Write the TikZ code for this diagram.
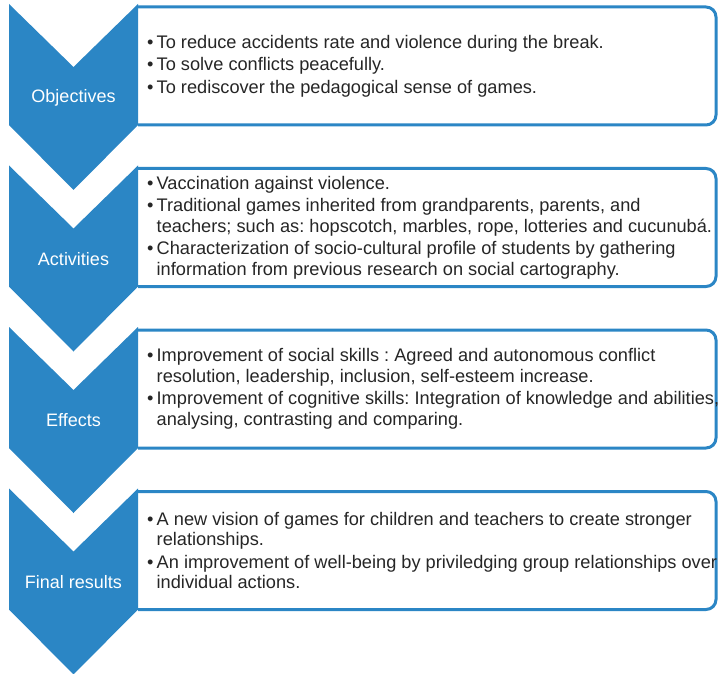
\documentclass[tikz,border=0pt]{standalone}
\usepackage{fontspec}
\setmainfont{Liberation Sans}
\frenchspacing
\definecolor{sablue}{RGB}{43,134,197}
\definecolor{txtgray}{RGB}{38,38,38}
\newcommand\bul{\makebox[9.5pt][l]{\textbullet}}
\newcommand\cnt{\hspace*{9.5pt}}
\newcommand\stage[4]{%
  \draw[boxline] (138,#1+3) -- (716,#1+3) -- (716,#1+121) -- (138,#1+121);
  \fill[chev] (9,#1) -- (73.5,#1+63) -- (138,#1) -- (138,#1+121) -- (73.5,#1+186) -- (9,#1+121) -- cycle;
  \node[lbl] (#2-label) at (73.5,#1+93.5) {#3};
  \node[body] (#2-text) at (147,#1+62) {#4};
}
\begin{document}
\begin{tikzpicture}[x=1pt,y=-1pt,
  chev/.style={fill=sablue,draw=none},
  boxline/.style={draw=sablue,line width=3pt,fill=white,rounded corners=10pt},
  lbl/.style={text=white,font=\fontsize{18}{20}\selectfont,inner sep=0pt},
  body/.style={anchor=west,text=txtgray,align=left,font=\fontsize{18.2}{20.5}\selectfont\frenchspacing,inner sep=0pt}]
\useasboundingbox (0,0) rectangle (718,674);
\stage{4}{obj}{Objectives}{\bul To reduce accidents rate and violence during the break.\\[2pt]
\bul To solve conflicts peacefully.\\[2pt]
\bul To rediscover the pedagogical sense of games.}
\stage{165.5}{act}{Activities}{\bul Vaccination against violence.\\[2pt]
\bul Traditional games inherited from grandparents, parents, and\\
\cnt teachers; such as: hopscotch, marbles, rope, lotteries and cucunubá.\\[2pt]
\bul Characterization of socio-cultural profile of students by gathering\\
\cnt information from previous research on social cartography.}
\stage{327}{eff}{Effects}{\bul Improvement of social skills : Agreed and autonomous conflict\\
\cnt resolution, leadership, inclusion, self-esteem increase.\\[2pt]
\bul Improvement of cognitive skills: Integration of knowledge and abilities,\\
\cnt analysing, contrasting and comparing.}
\stage{488.5}{fin}{Final results}{\bul A new vision of games for children and teachers to create stronger\\
\cnt relationships.\\[2pt]
\bul An improvement of well-being by priviledging group relationships over\\
\cnt individual actions.}
\end{tikzpicture}
\end{document}
